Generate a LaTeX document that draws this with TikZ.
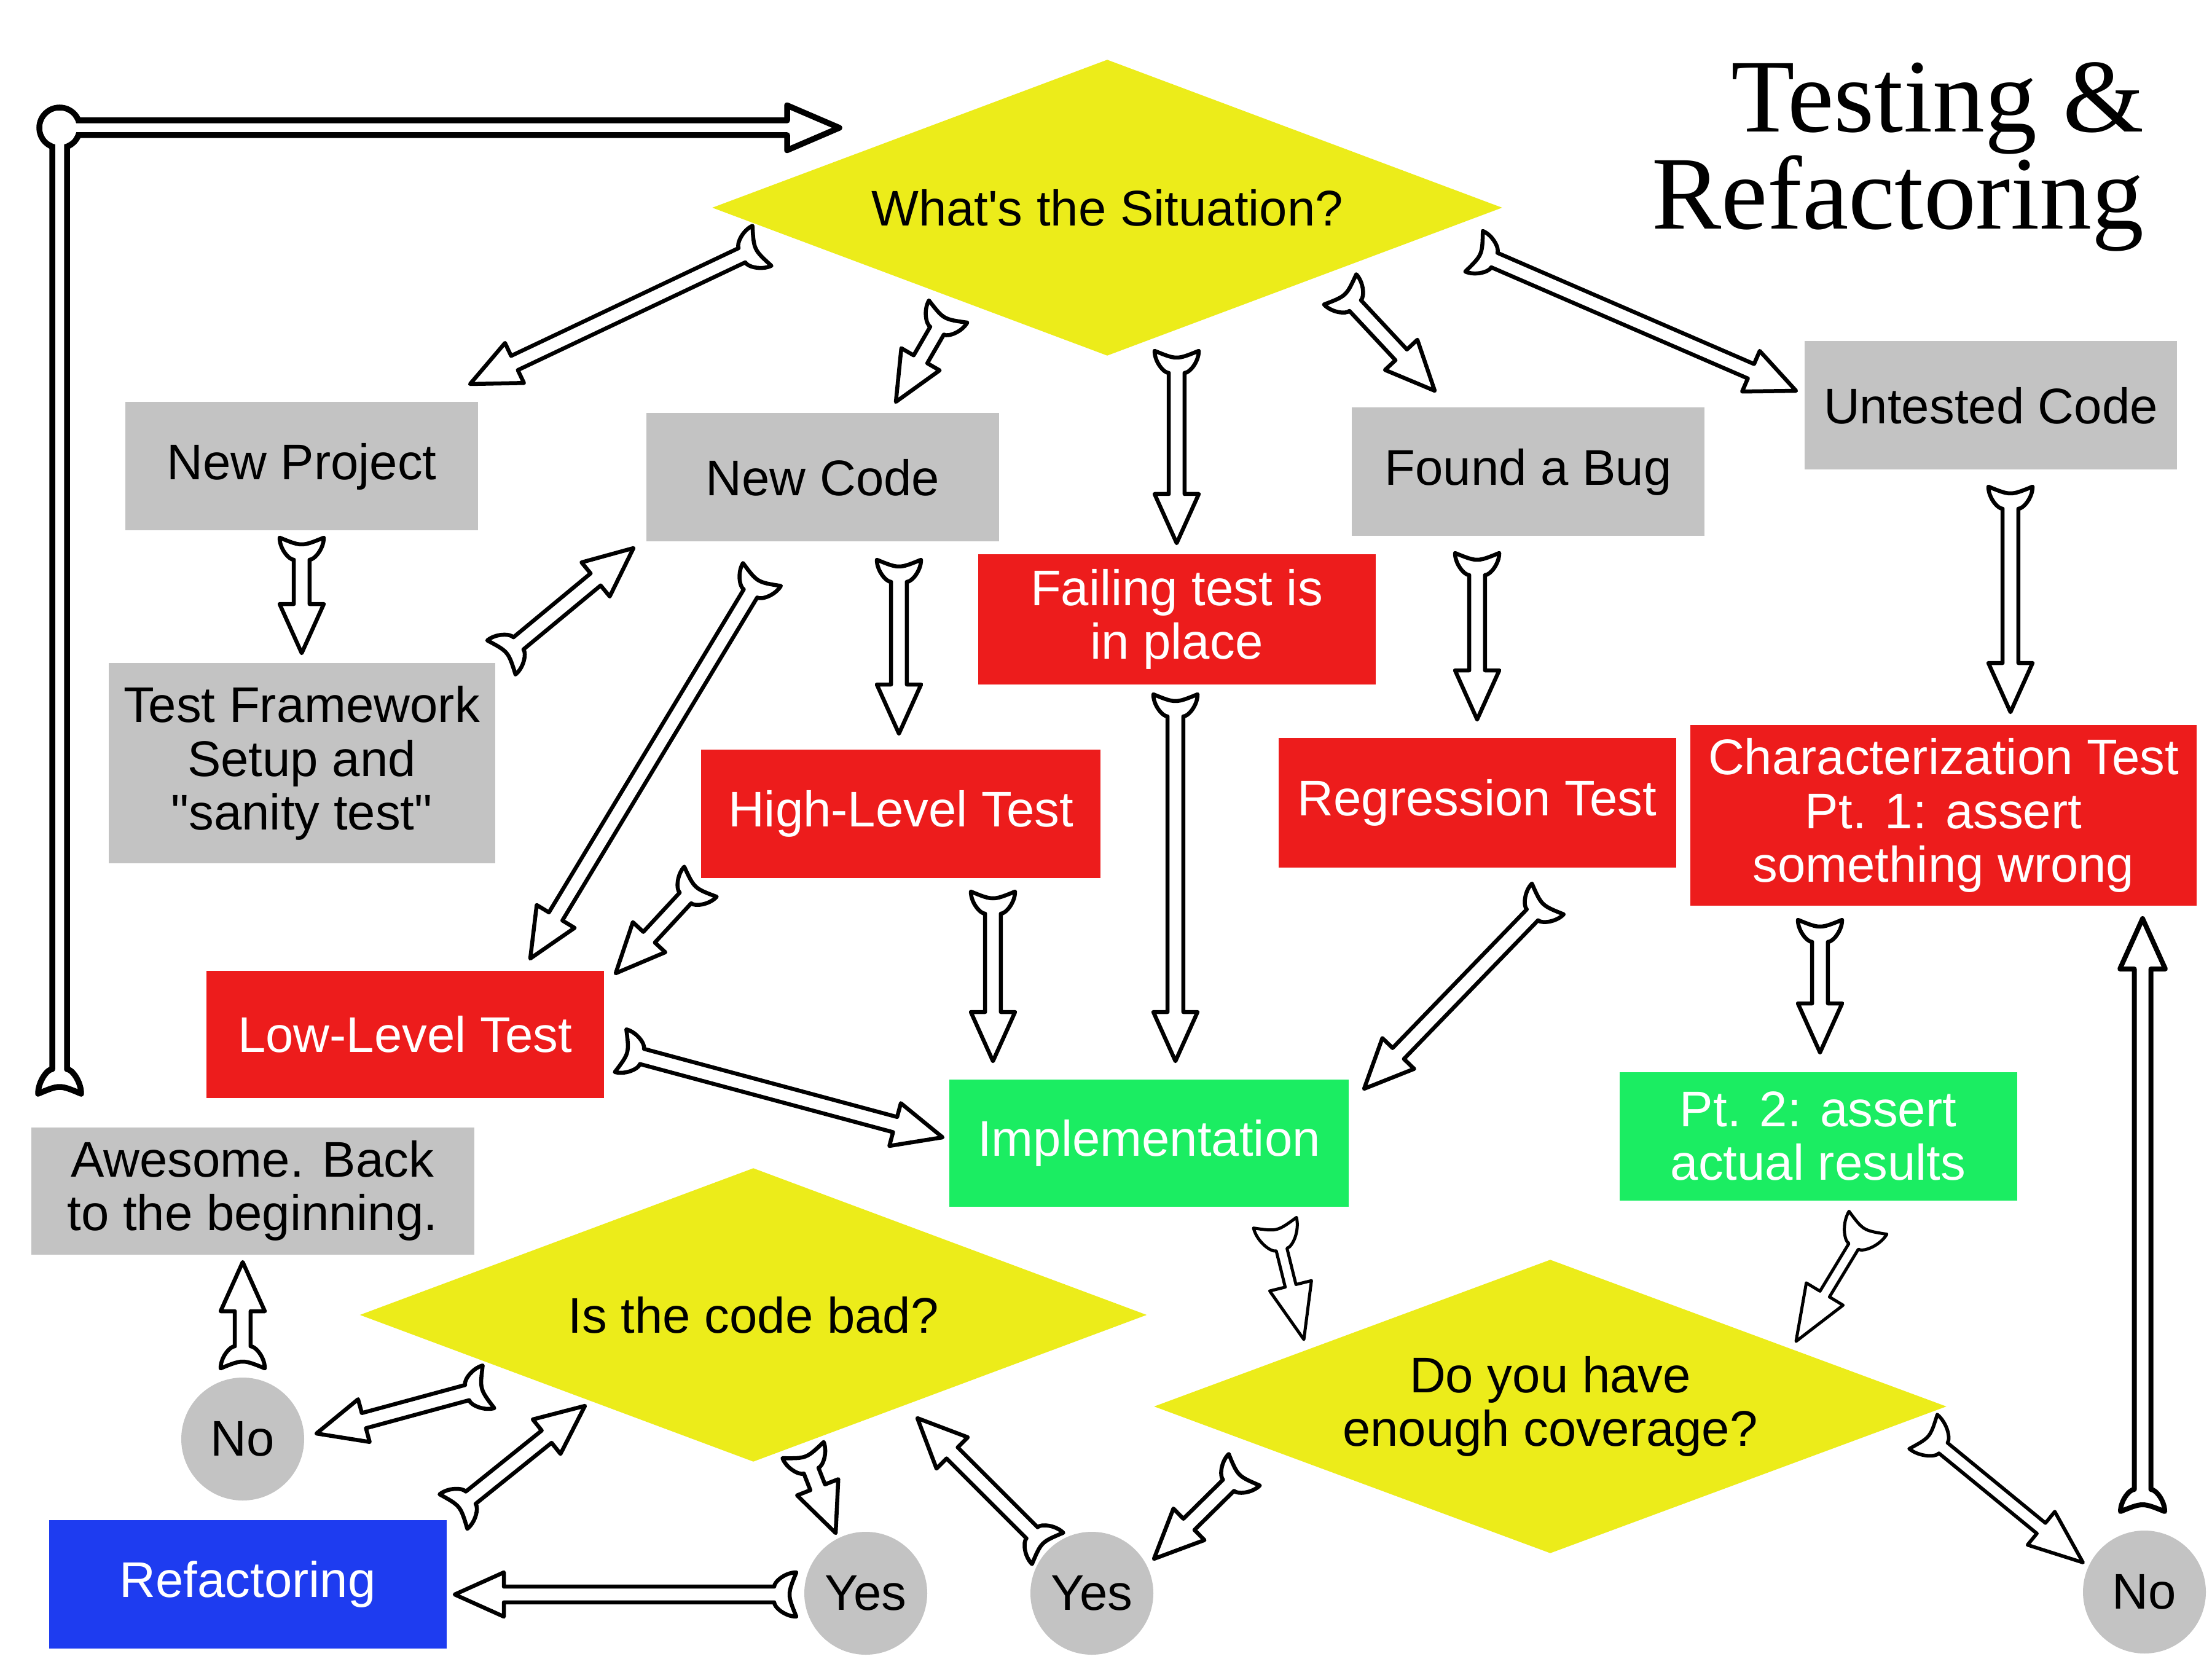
\documentclass[tikz,border=0pt]{standalone}
\usepackage{fontspec}
\setmainfont{Liberation Sans}
\newfontfamily\titlefont{Liberation Serif}
\usetikzlibrary{calc,shapes.geometric}

\definecolor{boxgray}{HTML}{C3C3C3}
\definecolor{decyellow}{HTML}{ECEC1A}
\definecolor{boxred}{HTML}{ED1C1C}
\definecolor{boxgreen}{HTML}{1BED62}
\definecolor{boxblue}{HTML}{1E3CF0}

\newcommand\boxfont{\fontsize{23.2}{24.8}\selectfont}

% geometry of the hollow block arrows (values measured to the stroke centre)
\pgfkeys{
  /ba/shaft/.store in=\baShaft,
  /ba/head/.store in=\baHead,
  /ba/hlen/.store in=\baHlen,
  /ba/flare/.store in=\baFlare,
  /ba/tlen/.store in=\baTlen,
  /ba/dip/.store in=\baDip,
  /ba/lw/.store in=\baLw,
}
\newcommand\baSetup[1]{%
  \pgfqkeys{/ba}{shaft=0.128cm, head=0.36cm, hlen=0.8cm, flare=0.36cm,
    tlen=0.36cm, dip=0.11cm, lw=0.065cm, #1}%
  \pgfmathsetlengthmacro\baC{4/3*\baDip}%
  \pgfmathsetlengthmacro\baM{0.5*\baTlen}%
  \pgfmathsetlengthmacro\baN{\baShaft+0.35*(\baFlare-\baShaft)}%
}
% outline points of an arrow running from #1 (tail) to #2 (tip)
\newcommand\baPoints[2]{%
  \coordinate (ba-TL)  at ($(#1)!\baFlare!90:(#2)$);
  \coordinate (ba-TR)  at ($(#1)!\baFlare!-90:(#2)$);
  \coordinate (ba-TD)  at ($(#1)!\baC!(#2)$);
  \coordinate (ba-TLa) at ($(#1)!\baM!(#2)!\baFlare!90:(#2)$);
  \coordinate (ba-TRa) at ($(#1)!\baM!(#2)!\baFlare!-90:(#2)$);
  \coordinate (ba-TLb) at ($(#1)!\baTlen!(#2)!\baN!90:(#2)$);
  \coordinate (ba-TRb) at ($(#1)!\baTlen!(#2)!\baN!-90:(#2)$);
  \coordinate (ba-SL)  at ($(#1)!\baTlen!(#2)!\baShaft!90:(#2)$);
  \coordinate (ba-SR)  at ($(#1)!\baTlen!(#2)!\baShaft!-90:(#2)$);
  \coordinate (ba-AL)  at ($(#1)!\baShaft!90:(#2)$);
  \coordinate (ba-AR)  at ($(#1)!\baShaft!-90:(#2)$);
  \coordinate (ba-HR1) at ($(#2)!\baHlen!(#1)!\baShaft!90:(#1)$);
  \coordinate (ba-HR2) at ($(#2)!\baHlen!(#1)!\baHead!90:(#1)$);
  \coordinate (ba-HL1) at ($(#2)!\baHlen!(#1)!\baShaft!-90:(#1)$);
  \coordinate (ba-HL2) at ($(#2)!\baHlen!(#1)!\baHead!-90:(#1)$);
  \coordinate (ba-BR)  at ($(#2)!\baShaft!90:(#1)$);
  \coordinate (ba-BL)  at ($(#2)!\baShaft!-90:(#1)$);
}
% swallow tail and open triangular head
\newcommand\barrow[3][]{%
  \begingroup\baSetup{#1}\baPoints{#2}{#3}%
  \draw[arrowbody] (ba-TL) .. controls (ba-TD) .. (ba-TR)
    .. controls (ba-TRa) and (ba-TRb) .. (ba-SR) -- (ba-HR1) -- (ba-HR2)
    -- (#3) -- (ba-HL2) -- (ba-HL1) -- (ba-SL)
    .. controls (ba-TLb) and (ba-TLa) .. (ba-TL) -- cycle;
  \endgroup}
% plain start, open triangular head
\newcommand\barrowflat[3][]{%
  \begingroup\baSetup{#1}\baPoints{#2}{#3}%
  \draw[arrowbody] (ba-AR) -- (ba-HR1) -- (ba-HR2) -- (#3) -- (ba-HL2)
    -- (ba-HL1) -- (ba-AL);
  \endgroup}
% swallow tail, shaft left open at its far end
\newcommand\barrowopen[3][]{%
  \begingroup\baSetup{#1}\baPoints{#2}{#3}%
  \draw[arrowbody] (ba-BR) -- (ba-SR) .. controls (ba-TRb) and (ba-TRa) .. (ba-TR)
    .. controls (ba-TD) .. (ba-TL) .. controls (ba-TLa) and (ba-TLb) .. (ba-SL)
    -- (ba-BL);
  \endgroup}

\tikzset{
  lbl/.style={inner sep=0pt, align=center, font=\boxfont},
  graynode/.style={lbl, rectangle, fill=boxgray, text=black},
  rednode/.style={lbl, rectangle, fill=boxred, text=white},
  greennode/.style={lbl, rectangle, fill=boxgreen, text=white},
  bluenode/.style={lbl, rectangle, fill=boxblue, text=white},
  decision/.style={lbl, diamond, aspect=2.7, fill=decyellow, text=black},
  yesno/.style={lbl, circle, fill=boxgray, text=black, minimum size=2cm},
  arrowbody/.style={draw=black, fill=white, line width=\baLw, line join=round},
  heading/.style={font=\titlefont\fontsize{48.3}{48.3}\selectfont, anchor=base east, inner sep=0pt},
  slim/.style={lw=0.055cm, shaft=0.1cm, head=0.35cm, hlen=0.88cm, tlen=0.42cm},
}

\begin{document}
\begin{tikzpicture}
\fill[white] (0,0) rectangle (36,-27);
\useasboundingbox (0,0) rectangle (36,-27);

% title
\node[heading] (title1) at (34.9,-2.15) {Testing \&};
\node[heading] (title2) at (34.9,-3.73) {Refactoring};

% decisions
\node[decision, minimum width=12.86cm, minimum height=4.82cm] (sit) at (18.02,-3.38) {What\textquotesingle s the Situation?};
\node[decision, minimum width=12.81cm, minimum height=4.78cm] (bad) at (12.26,-21.40) {Is the code bad?};
\node[decision, minimum width=12.90cm, minimum height=4.78cm] (cov) at (25.23,-22.89) {Do you have\\enough coverage?};

% boxes
\node[graynode, minimum width=5.74cm, minimum height=2.09cm] (np) at (4.91,-7.59) {New Project};
\node[graynode, minimum width=5.74cm, minimum height=2.09cm] (nc) at (13.39,-7.77) {New Code};
\node[graynode, minimum width=5.74cm, minimum height=2.09cm] (bug) at (24.87,-7.68) {Found a Bug};
\node[graynode, minimum width=6.06cm, minimum height=2.09cm] (unt) at (32.40,-6.60) {Untested Code};
\node[graynode, minimum width=6.29cm, minimum height=3.26cm] (tf) at (4.91,-12.42) {Test Framework\\Setup and\\\textquotedbl sanity test\textquotedbl};
\node[rednode, minimum width=6.47cm, minimum height=2.11cm] (fail) at (19.15,-10.08) {Failing test is\\in place};
\node[rednode, minimum width=6.50cm, minimum height=2.09cm] (hl) at (14.66,-13.24) {High-Level Test};
\node[rednode, minimum width=6.47cm, minimum height=2.11cm] (reg) at (24.04,-13.06) {Regression Test};
\node[rednode, minimum width=8.24cm, minimum height=2.94cm] (char) at (31.63,-13.27) {Characterization Test\\Pt. 1: assert\\something wrong};
\node[rednode, minimum width=6.47cm, minimum height=2.07cm] (ll) at (6.59,-16.83) {Low-Level Test};
\node[greennode, minimum width=6.50cm, minimum height=2.07cm] (impl) at (18.70,-18.60) {Implementation};
\node[greennode, minimum width=6.47cm, minimum height=2.09cm] (pt2) at (29.59,-18.49) {Pt. 2: assert\\actual results};
\node[graynode, minimum width=7.21cm, minimum height=2.07cm] (back) at (4.11,-19.38) {Awesome. Back\\to the beginning.};
\node[bluenode, minimum width=6.47cm, minimum height=2.09cm] (ref) at (4.03,-25.78) {Refactoring};

% answers
\node[yesno] (no1) at (3.95,-23.42) {No};
\node[yesno] (yes1) at (14.09,-25.93) {Yes};
\node[yesno] (yes2) at (17.77,-25.93) {Yes};
\node[yesno] (no2) at (34.90,-25.91) {No};

% arrow end points
\coordinate (loop-t) at (0.97,-17.80);
\coordinate (loop-c) at (0.97,-2.08);
\coordinate (loop-h) at (13.66,-2.08);
\coordinate (sit-np-t) at (12.40,-4.00);   \coordinate (sit-np-h) at (7.65,-6.25);
\coordinate (sit-nc-t) at (15.43,-5.07);   \coordinate (sit-nc-h) at (14.58,-6.54);
\coordinate (sit-fail-t) at (19.15,-5.71); \coordinate (sit-fail-h) at (19.15,-8.84);
\coordinate (sit-bug-t) at (21.81,-4.71);  \coordinate (sit-bug-h) at (23.35,-6.36);
\coordinate (sit-unt-t) at (23.99,-4.09);  \coordinate (sit-unt-h) at (29.23,-6.36);
\coordinate (np-tf-t) at (4.91,-8.75);     \coordinate (np-tf-h) at (4.91,-10.63);
\coordinate (tf-nc-t) at (8.16,-10.70);    \coordinate (tf-nc-h) at (10.31,-8.92);
\coordinate (nc-ll-t) at (12.40,-9.35);    \coordinate (nc-ll-h) at (8.63,-15.60);
\coordinate (nc-hl-t) at (14.63,-9.11);    \coordinate (nc-hl-h) at (14.63,-11.94);
\coordinate (hl-ll-t) at (11.40,-14.35);   \coordinate (hl-ll-h) at (10.02,-15.84);
\coordinate (hl-impl-t) at (16.16,-14.51); \coordinate (hl-impl-h) at (16.16,-17.27);
\coordinate (fail-impl-t) at (19.13,-11.30); \coordinate (fail-impl-h) at (19.13,-17.27);
\coordinate (ll-impl-t) at (10.10,-17.10); \coordinate (ll-impl-h) at (15.34,-18.51);
\coordinate (bug-reg-t) at (24.04,-9.00);  \coordinate (bug-reg-h) at (24.04,-11.71);
\coordinate (reg-impl-t) at (25.19,-14.63); \coordinate (reg-impl-h) at (22.20,-17.72);
\coordinate (unt-char-t) at (32.72,-7.92); \coordinate (unt-char-h) at (32.72,-11.59);
\coordinate (char-pt2-t) at (29.62,-14.97); \coordinate (char-pt2-h) at (29.62,-17.13);
\coordinate (impl-cov-t) at (20.75,-19.90); \coordinate (impl-cov-h) at (21.22,-21.80);
\coordinate (pt2-cov-t) at (30.40,-19.90); \coordinate (pt2-cov-h) at (29.23,-21.83);
\coordinate (cov-yes-t) at (20.25,-23.92); \coordinate (cov-yes-h) at (18.78,-25.37);
\coordinate (cov-no-t) at (31.30,-23.30);  \coordinate (cov-no-h) at (33.90,-25.43);
\coordinate (no-char-t) at (34.87,-24.60); \coordinate (no-char-h) at (34.87,-14.95);
\coordinate (yes-bad-t) at (17.05,-25.20); \coordinate (yes-bad-h) at (14.93,-23.08);
\coordinate (bad-yes-t) at (13.07,-23.60); \coordinate (bad-yes-h) at (13.60,-24.95);
\coordinate (yes-ref-t) at (12.96,-25.95); \coordinate (yes-ref-h) at (7.40,-25.95);
\coordinate (ref-bad-t) at (7.38,-24.60);  \coordinate (ref-bad-h) at (9.52,-22.88);
\coordinate (bad-no-t) at (7.95,-22.57);   \coordinate (bad-no-h) at (5.15,-23.33);
\coordinate (no-back-t) at (3.95,-22.27);  \coordinate (no-back-h) at (3.95,-20.54);

% loop back to the start: ring joint, then two open shafts, then clear the ring
\draw[line width=0.095cm, fill=white] (loop-c) circle (0.33cm);
\barrowopen[lw=0.095cm, shaft=0.12cm, flare=0.35cm, tlen=0.4cm]{loop-t}{loop-c}
\barrowflat[lw=0.095cm, shaft=0.12cm, head=0.365cm, hlen=0.85cm]{loop-c}{loop-h}
\fill[white] (loop-c) circle (0.28cm);

% flow arrows
\barrow{sit-np-t}{sit-np-h}
\barrow{sit-nc-t}{sit-nc-h}
\barrow{sit-fail-t}{sit-fail-h}
\barrow{sit-bug-t}{sit-bug-h}
\barrow{sit-unt-t}{sit-unt-h}
\barrow{np-tf-t}{np-tf-h}
\barrow{tf-nc-t}{tf-nc-h}
\barrow{nc-ll-t}{nc-ll-h}
\barrow{nc-hl-t}{nc-hl-h}
\barrow{hl-ll-t}{hl-ll-h}
\barrow{hl-impl-t}{hl-impl-h}
\barrow{fail-impl-t}{fail-impl-h}
\barrow{ll-impl-t}{ll-impl-h}
\barrow{bug-reg-t}{bug-reg-h}
\barrow{reg-impl-t}{reg-impl-h}
\barrow{unt-char-t}{unt-char-h}
\barrow{char-pt2-t}{char-pt2-h}
\barrow[lw=0.05cm, shaft=0.09cm, head=0.35cm, hlen=0.9cm, tlen=0.45cm]{impl-cov-t}{impl-cov-h}
\barrow[lw=0.05cm, shaft=0.09cm, head=0.35cm, hlen=0.9cm, tlen=0.45cm]{pt2-cov-t}{pt2-cov-h}
\barrow{cov-yes-t}{cov-yes-h}
\barrow[lw=0.058cm, shaft=0.11cm, head=0.35cm, hlen=0.88cm, tlen=0.42cm]{cov-no-t}{cov-no-h}
\barrow[lw=0.08cm, shaft=0.135cm, head=0.37cm, hlen=0.82cm]{no-char-t}{no-char-h}
\barrow{yes-bad-t}{yes-bad-h}
\barrow{bad-yes-t}{bad-yes-h}
\barrow{yes-ref-t}{yes-ref-h}
\barrow{ref-bad-t}{ref-bad-h}
\barrow{bad-no-t}{bad-no-h}
\barrow{no-back-t}{no-back-h}
\end{tikzpicture}
\end{document}
